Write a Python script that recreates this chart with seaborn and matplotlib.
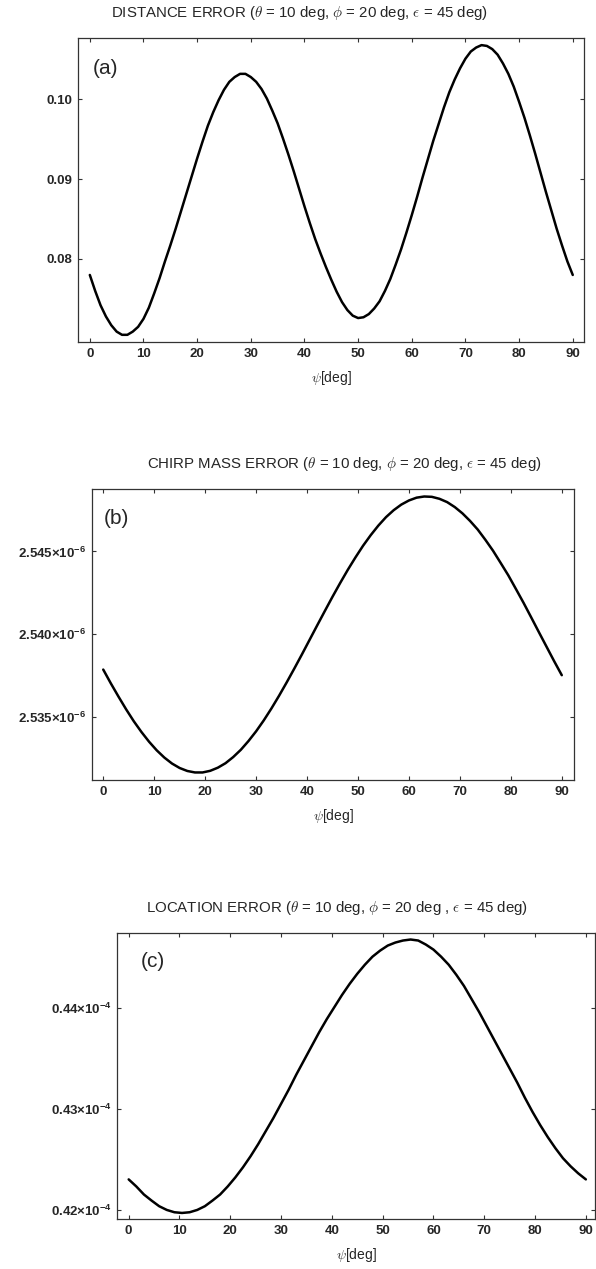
import matplotlib
matplotlib.use('Agg')
import matplotlib.pyplot as plt
import seaborn as sns
import pandas as pd
from matplotlib.ticker import FuncFormatter

# --
# Values

psi_a = list(range(0, 91))
dist_err = [0.0780, 0.0760, 0.0742, 0.0728, 0.0717, 0.0709, 0.0705, 0.0705,
            0.0709, 0.0715, 0.0725, 0.0739, 0.0757, 0.0776, 0.0797, 0.0817,
            0.0838, 0.0860, 0.0882, 0.0904, 0.0926, 0.0947, 0.0967, 0.0984,
            0.0999, 0.1012, 0.1022, 0.1028, 0.1032, 0.1032, 0.1028, 0.1022,
            0.1013, 0.1001, 0.0986, 0.0970, 0.0951, 0.0931, 0.0910, 0.0888,
            0.0866, 0.0845, 0.0825, 0.0807, 0.0790, 0.0774, 0.0759, 0.0746,
            0.0736, 0.0729, 0.0726, 0.0727, 0.0731, 0.0738, 0.0747, 0.0760,
            0.0775, 0.0793, 0.0812, 0.0833, 0.0855, 0.0878, 0.0902, 0.0925,
            0.0948, 0.0969, 0.0990, 0.1009, 0.1025, 0.1039, 0.1051, 0.1060,
            0.1065, 0.1068, 0.1067, 0.1063, 0.1056, 0.1045, 0.1032, 0.1016,
            0.0997, 0.0977, 0.0955, 0.0932, 0.0908, 0.0884, 0.0861, 0.0838,
            0.0817, 0.0797, 0.0780]

psi_b = [i * 1.5 for i in range(61)]
chirp_err = [2.53785, 2.53701, 2.53621, 2.53544, 2.53472, 2.53407, 2.53348,
             2.53296, 2.53252, 2.53216, 2.53189, 2.53171, 2.53162, 2.53162,
             2.53172, 2.53191, 2.53218, 2.53255, 2.53299, 2.53352, 2.53411,
             2.53477, 2.53549, 2.53626, 2.53707, 2.53791, 2.53877, 2.53965,
             2.54053, 2.54140, 2.54226, 2.54309, 2.54389, 2.54464, 2.54535,
             2.54599, 2.54657, 2.54708, 2.54750, 2.54784, 2.54809, 2.54826,
             2.54833, 2.54831, 2.54819, 2.54799, 2.54769, 2.54731, 2.54685,
             2.54633, 2.54571, 2.54505, 2.54431, 2.54356, 2.54273, 2.54189,
             2.54101, 2.54012, 2.53924, 2.53836, 2.53751]  # x 1e-6

psi_c = [i * 1.5 for i in range(61)]
loc_err = [0.42300, 0.42230, 0.42150, 0.42090, 0.42034, 0.41997, 0.41974,
           0.41967, 0.41974, 0.41997, 0.42034, 0.42090, 0.42150, 0.42230,
           0.42320, 0.42420, 0.42530, 0.42650, 0.42780, 0.42910, 0.43050,
           0.43190, 0.43340, 0.43480, 0.43620, 0.43760, 0.43890, 0.44010,
           0.44130, 0.44240, 0.44340, 0.44430, 0.44510, 0.44570, 0.44620,
           0.44650, 0.44670, 0.44680, 0.44670, 0.44630, 0.44580, 0.44510,
           0.44430, 0.44330, 0.44220, 0.44090, 0.43960, 0.43820, 0.43680,
           0.43540, 0.43400, 0.43260, 0.43110, 0.42970, 0.42840, 0.42720,
           0.42610, 0.42510, 0.42430, 0.42360, 0.42300]  # x 1e-4

xticks = list(range(0, 91, 10))

# --
# Style

sns.set_style('ticks')
plt.rcParams['font.family'] = ['Liberation Sans', 'DejaVu Sans']
plt.rcParams['mathtext.fontset'] = 'custom'
plt.rcParams['mathtext.bf'] = 'Liberation Sans:bold'
plt.rcParams['mathtext.rm'] = 'Liberation Sans'

fig = plt.figure(figsize=(5.96, 12.69), dpi=100)

panels = [
    dict(psi=psi_a, val=dist_err, rect=[0.1309, 0.7305, 0.849, 0.2396],
         xlim=(-2.2, 92.1), ylim=(0.0696, 0.1077), yticks=[0.08, 0.09, 0.10],
         fmt=lambda v, p: '%.2f' % v, tag='(a)', tagx=0.03,
         title='DISTANCE ERROR', titlex=0.437, sep=', '),
    dict(psi=psi_b, val=chirp_err, rect=[0.1544, 0.3853, 0.8087, 0.2293],
         xlim=(-2.2, 92.4), ylim=(2.53116, 2.54878), yticks=[2.535, 2.540, 2.545],
         fmt=lambda v, p: '%.3f×10$^{\\mathbf{-6}}$' % v, tag='(b)', tagx=0.025,
         title='CHIRP MASS ERROR', titlex=0.523, sep=', '),
    dict(psi=psi_c, val=loc_err, rect=[0.1963, 0.0394, 0.802, 0.2254],
         xlim=(-2.3, 91.8), ylim=(0.41907, 0.44745), yticks=[0.42, 0.43, 0.44],
         fmt=lambda v, p: '%.2f×10$^{\\mathbf{-4}}$' % v, tag='(c)', tagx=0.05,
         title='LOCATION ERROR', titlex=0.46, sep=' , '),
]

for p in panels:
    ax = fig.add_axes(p['rect'])
    df = pd.DataFrame({'psi': p['psi'], 'err': p['val']})
    sns.lineplot(data=df, x='psi', y='err', ax=ax, color='black', lw=1.8)
    ax.set_xlim(*p['xlim'])
    ax.set_ylim(*p['ylim'])
    ax.set_xticks(xticks)
    ax.set_yticks(p['yticks'])
    ax.yaxis.set_major_formatter(FuncFormatter(p['fmt']))
    ax.tick_params(direction='in', length=3, width=0.8, top=True, right=True,
                   labelsize=9.5, color='#333333', pad=4)
    for lbl in ax.get_xticklabels() + ax.get_yticklabels():
        lbl.set_fontweight('bold')
    for s in ax.spines.values():
        s.set_color('#333333')
        s.set_linewidth(0.9)
    ax.set_xlabel(r'$\psi$[deg]', fontsize=10, labelpad=7, math_fontfamily='cm')
    ax.set_ylabel('')
    ax.set_title(p['title'] + r' ($\theta$ = 10 deg, $\phi$ = 20 deg' + p['sep']
                 + r'$\epsilon$ = 45 deg)', fontsize=10.8, x=p['titlex'], pad=15,
                 math_fontfamily='cm')
    ax.text(p['tagx'], 0.9, p['tag'], transform=ax.transAxes, fontsize=15,
            va='center', ha='left')

fig.savefig('out.png', dpi=100)
